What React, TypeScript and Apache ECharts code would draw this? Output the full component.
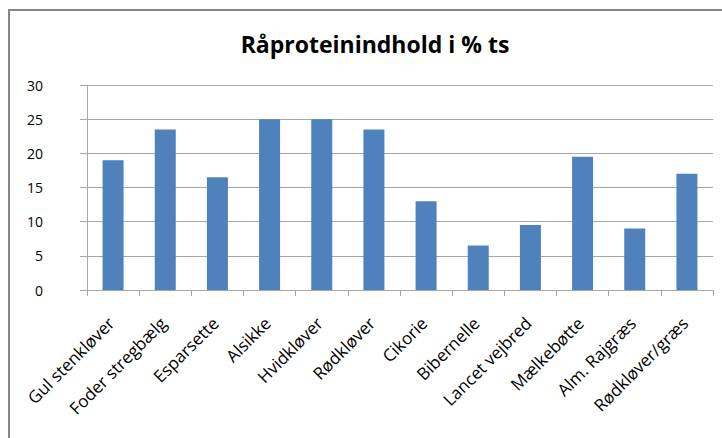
import React, { useEffect, useRef } from "react";
import * as echarts from "echarts";

const categories = [
  "Gul stenkløver",
  "Foder stregbælg",
  "Esparsette",
  "Alsikke",
  "Hvidkløver",
  "Rødkløver",
  "Cikorie",
  "Bibernelle",
  "Lancet vejbred",
  "Mælkebøtte",
  "Alm. Rajgræs",
  "Rødkløver/græs",
];
const values = [19, 23.5, 16.5, 25, 25, 23.5, 13, 6.5, 9.5, 19.5, 9, 17];
const titleText = "Råproteinindhold i % ts";

export default function App() {
  const ref = useRef<HTMLDivElement>(null);
  useEffect(() => {
    if (!ref.current) return;
    const chart = echarts.init(ref.current, undefined, { renderer: "svg" });
    const font = "'Open Sans', 'Noto Sans', sans-serif";
    chart.setOption({
      animation: false,
      backgroundColor: "#ffffff",
      title: {
        text: titleText,
        left: 370,
        textAlign: "center",
        top: 27,
        textStyle: { fontFamily: font, fontSize: 23, fontWeight: "bold", color: "#000" },
      },
      graphic: [
        {
          type: "rect",
          shape: { x: 9, y: 10, width: 800, height: 500 },
          style: { fill: "none", stroke: "#868686", lineWidth: 2 },
          silent: true,
        },
      ],
      grid: { left: 87, right: 9, top: 85, bottom: 148, containLabel: false },
      xAxis: {
        type: "category",
        data: categories,
        boundaryGap: true,
        axisLine: { show: true, lineStyle: { color: "#a6a6a6", width: 1 } },
        axisTick: { show: true, length: 6, alignWithLabel: false, lineStyle: { color: "#a6a6a6" } },
        axisLabel: {
          interval: 0,
          rotate: 45,
          margin: 28,
          padding: [0, 3, 0, 0],
          fontFamily: font,
          fontSize: 17,
          color: "#000",
        },
      },
      yAxis: {
        type: "value",
        min: 0,
        max: 30,
        interval: 5,
        axisLine: { show: true, lineStyle: { color: "#a6a6a6", width: 1 } },
        axisTick: { show: true, length: 7, lineStyle: { color: "#a6a6a6" } },
        splitLine: { show: true, lineStyle: { color: "#a6a6a6", width: 1 } },
        axisLabel: { margin: 44, fontFamily: font, fontSize: 14, color: "#000" },
      },
      series: [
        {
          type: "bar",
          data: values,
          barWidth: 21,
          itemStyle: { color: "#4F81BD" },
        },
      ],
    });
    return () => chart.dispose();
  }, []);
  return (
    <div
      ref={ref}
      style={{ position: "fixed", left: 0, top: 0, width: 722, height: 438 }}
    />
  );
}
